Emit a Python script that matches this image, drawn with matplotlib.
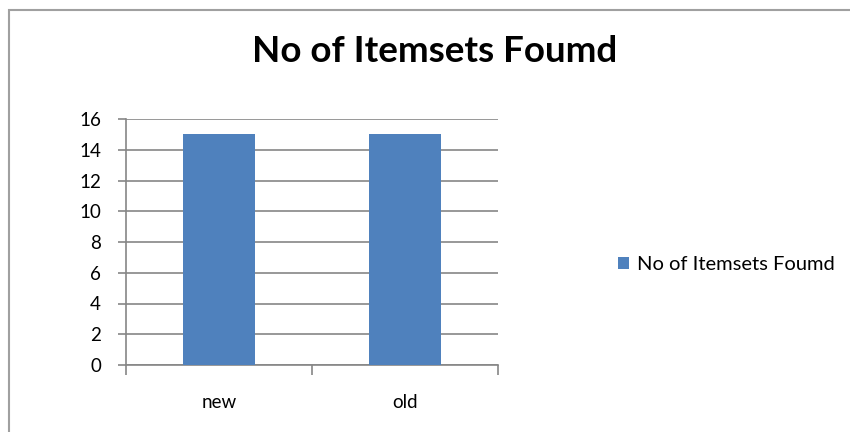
import matplotlib
matplotlib.use('Agg')
from matplotlib import pyplot
from matplotlib.patches import Rectangle

categories = ['new', 'old']
values = [15, 15]
series_name = 'No of Itemsets Foumd'
y_ticks = [0, 2, 4, 6, 8, 10, 12, 14, 16]

bar_color = '#4F81BD'
grid_color = '#868686'

pyplot.rcParams['font.family'] = ['Lato', 'DejaVu Sans']

fig = pyplot.figure(figsize=(8.5, 4.32), dpi=100)
fig.patches.append(Rectangle((9 / 850, -0.2), 1.2, 1.2 - 10 / 432, transform=fig.transFigure,
                             fill=False, edgecolor='#A0A0A0', linewidth=1.5))

ax = fig.add_axes([126 / 850, 67 / 432, 372 / 850, 246 / 432])
xs = list(range(len(categories)))
bars = ax.bar(xs, values, width=0.39, color=bar_color, label=series_name, zorder=3)

ax.set_xlim(-0.5, len(categories) - 0.5)
ax.set_ylim(0, 16)
ax.set_yticks(y_ticks)
ax.set_yticklabels([str(t) for t in y_ticks], fontsize=13.5)
ax.yaxis.grid(True, color=grid_color, linewidth=1.2, zorder=0)

ax.set_xticks([x - 0.5 for x in range(len(categories) + 1)])
ax.set_xticklabels([])
ax.set_xticks(xs, minor=True)
ax.set_xticklabels(categories, minor=True, fontsize=13.5)
ax.tick_params(axis='x', which='major', length=7, color=grid_color, width=1.2, direction='out')
ax.tick_params(axis='x', which='minor', length=0, pad=21)
ax.tick_params(axis='y', length=6, color=grid_color, width=1.2, direction='out', pad=12)

for s in ['top', 'right']:
    ax.spines[s].set_visible(False)
for s in ['left', 'bottom']:
    ax.spines[s].set_color(grid_color)
    ax.spines[s].set_linewidth(1.2)

fig.text(435 / 850, 1 - 52 / 432, series_name, ha='center', va='center',
         fontsize=26.5, fontweight='bold')

fig.legend(handles=[bars], labels=[series_name], loc='center left',
           bbox_to_anchor=(600 / 850, 1 - 265 / 432), frameon=False,
           fontsize=14.5, handlelength=0.55, handleheight=0.55, handletextpad=0.4)

fig.savefig('out.png', dpi=100)
pyplot.close(fig)
